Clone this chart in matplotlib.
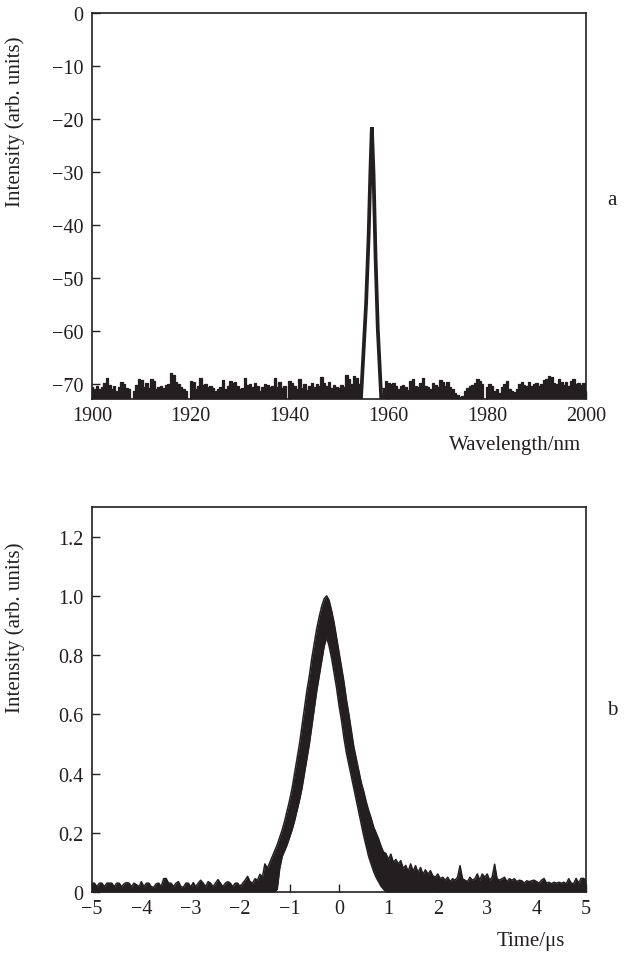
"""Two-panel figure: laser output spectrum (a) and pulse shape (b)."""

import numpy as np
import matplotlib
matplotlib.use('Agg')
import matplotlib.pyplot as plt
import matplotlib.ticker as mticker

plt.rcParams['font.family'] = ['Liberation Serif', 'DejaVu Serif']
INK = '#231f20'

# --------------------------------------------------------------------------- #
#  Data                                                  #
# --------------------------------------------------------------------------- #

# (a) spectrum, one reading every 0.5 nm from 1900 to 2000 nm
wl_start, wl_stop, wl_step = 1900.0, 2000.0, 0.5
nan = np.nan
spec_db = [
    -70.6, -70.9, -70.4, -71.0, -70.5, -69.8, -68.8, -70.2, -70.9, -70.4,   # 1900
    -71.2, -70.6, -69.5, -70.0, -70.8, -71.0, -73.5, -71.3, -70.1, -69.1,   # 1905
    -69.3, -70.5, -69.8, -70.7, -69.1, -69.4, -71.0, -70.5, -70.3, -70.8,   # 1910
    -70.2, -69.9, -67.9, -68.3, -69.5, -70.0, -70.6, -70.9, -71.2, -73.5,   # 1915
    -69.4, -69.6, -71.0, -70.4, -68.8, -70.2, -70.0, -70.6, -70.3, -70.8,   # 1920
    -71.3, -70.9, -70.6, -69.2, -71.0, -70.3, -69.4, -69.8, -69.5, -70.3,   # 1925
    -71.0, -70.7, -68.9, -70.2, -70.0, -70.6, -69.8, -70.4, -71.2, -70.5,   # 1930
    -70.0, -70.2, -70.6, -70.3, -68.9, -70.5, -69.5, -70.8, -70.3, -73.5,   # 1935
    -69.4, -69.7, -70.3, -71.0, -69.1, -70.8, -70.0, -71.1, -70.4, -69.8,   # 1940
    -70.5, -70.0, -70.4, -68.6, -69.8, -70.3, -69.5, -70.7, -70.2, -70.6,   # 1945
    -70.8, -70.2, -70.5, -68.2, -69.0, -70.0, -68.4, -68.8, -70.0, -70.5,   # 1950
    nan, nan, nan, nan, nan, nan, nan, nan, -70.8, -69.4,                    # 1955
    -69.8, -70.0, -69.7, -70.4, -70.9, -70.3, -70.2, -70.6, -71.1, -69.4,   # 1960
    -69.1, -70.3, -70.5, -69.8, -68.9, -70.3, -70.6, -71.0, -69.8, -70.2,   # 1965
    -70.6, -69.2, -69.6, -70.4, -69.6, -70.5, -70.9, -71.6, -72.1, -72.5,   # 1970
    -72.2, -71.2, -70.8, -70.4, -70.2, -69.8, -69.1, -69.4, -69.9, -73.5,   # 1975
    -70.6, -70.0, -70.3, -71.2, -71.0, -71.6, -70.5, -69.9, -69.4, -71.0,   # 1980
    -71.3, -71.5, -70.9, -70.0, -69.6, -70.2, -70.4, -69.5, -70.3, -70.0,   # 1985
    -69.8, -70.4, -70.0, -69.2, -69.0, -68.4, -68.7, -69.7, -70.0, -69.1,   # 1990
    -69.5, -70.2, -69.6, -70.4, -69.4, -69.1, -70.0, -69.7, -70.1, -69.8,   # 1995
    -70.3,                                                                  # 2000
]

# the lasing line itself
peak_wl = [1954.4, 1954.9, 1955.5, 1956.0, 1956.35, 1956.65,
           1957.0, 1957.4, 1957.85, 1958.3, 1958.6]
peak_db = [-73.5, -65.0, -54.5, -42.0, -30.0, -21.5,
           -30.5, -46.0, -59.5, -68.0, -73.5]

# (b) pulse, upper and lower edge of the recorded trace every 0.05 us
t_start, t_stop, t_step = -5.0, 5.0, 0.05
pulse_hi = [
    0.030, 0.030, 0.018, 0.030, 0.030, 0.018, 0.030, 0.030, 0.030, 0.018,   # -5.0
    0.030, 0.030, 0.018, 0.028, 0.032, 0.030, 0.018, 0.030, 0.025, 0.018,   # -4.5
    0.035, 0.018, 0.030, 0.030, 0.018, 0.016, 0.028, 0.030, 0.018, 0.045,   # -4.0
    0.046, 0.030, 0.030, 0.018, 0.030, 0.035, 0.018, 0.016, 0.030, 0.030,   # -3.5
    0.016, 0.032, 0.018, 0.030, 0.040, 0.030, 0.018, 0.035, 0.030, 0.018,   # -3.0
    0.030, 0.042, 0.030, 0.018, 0.030, 0.035, 0.030, 0.018, 0.030, 0.030,   # -2.5
    0.016, 0.030, 0.040, 0.053, 0.035, 0.030, 0.045, 0.040, 0.060, 0.050,   # -2.0
    0.095, 0.080, 0.100, 0.120, 0.140, 0.160, 0.185, 0.210, 0.240, 0.275,   # -1.5
    0.310, 0.350, 0.400, 0.450, 0.500, 0.560, 0.620, 0.680, 0.730, 0.790,   # -1.0
    0.840, 0.890, 0.930, 0.965, 0.990, 1.000, 0.985, 0.950, 0.910, 0.860,   # -0.5
    0.810, 0.760, 0.710, 0.650, 0.600, 0.545, 0.490, 0.450, 0.410, 0.370,   #  0.0
    0.340, 0.305, 0.275, 0.250, 0.220, 0.200, 0.180, 0.155, 0.135, 0.130,   #  0.5
    0.110, 0.128, 0.100, 0.110, 0.095, 0.106, 0.080, 0.090, 0.070, 0.095,   #  1.0
    0.070, 0.089, 0.065, 0.083, 0.060, 0.075, 0.060, 0.072, 0.055, 0.050,   #  1.5
    0.061, 0.045, 0.050, 0.040, 0.050, 0.035, 0.045, 0.040, 0.050, 0.089,   #  2.0
    0.045, 0.040, 0.035, 0.050, 0.040, 0.045, 0.061, 0.040, 0.061, 0.050,   #  2.5
    0.061, 0.040, 0.050, 0.094, 0.045, 0.040, 0.045, 0.050, 0.035, 0.045,   #  3.0
    0.040, 0.045, 0.035, 0.040, 0.038, 0.030, 0.038, 0.035, 0.038, 0.040,   #  3.5
    0.035, 0.030, 0.040, 0.046, 0.030, 0.033, 0.028, 0.033, 0.030, 0.033,   #  4.0
    0.030, 0.033, 0.028, 0.045, 0.030, 0.028, 0.046, 0.030, 0.046, 0.046,   #  4.5
    0.040,                                                                  #  5.0
]
pulse_lo = [0.0] * 75 + [
    0.010, 0.080, 0.120, 0.140, 0.160,                                      # -1.25
    0.185, 0.210, 0.240, 0.275, 0.310, 0.350, 0.400, 0.450, 0.500, 0.560,   # -1.0
    0.620, 0.680, 0.730, 0.780, 0.830, 0.860, 0.830, 0.790, 0.740, 0.690,   # -0.5
    0.630, 0.580, 0.520, 0.470, 0.430, 0.390, 0.350, 0.310, 0.270, 0.230,   #  0.0
    0.190, 0.155, 0.120, 0.095, 0.070, 0.050, 0.035, 0.020, 0.010,          #  0.5
] + [0.0] * 82


# --------------------------------------------------------------------------- #
#  Figure                                                                     #
# --------------------------------------------------------------------------- #

def _style(ax):
    for sp in ax.spines.values():
        sp.set_linewidth(1.2)
        sp.set_color(INK)
    ax.tick_params(direction='in', length=6, width=1.0, color=INK,
                   labelsize=14.5, labelcolor=INK, top=False, right=False)
    ax.tick_params(axis='y', pad=6)
    ax.tick_params(axis='x', pad=5)


fig = plt.figure(figsize=(6.25, 9.54), dpi=100)
ax1 = fig.add_axes([0.1472, 0.5807, 0.7904, 0.4046])
ax2 = fig.add_axes([0.1472, 0.0639, 0.7904, 0.4036])

# --- Panel a: spectrum ---
wl = np.arange(wl_start, wl_stop + wl_step / 2, wl_step)
spec = np.array(spec_db)
ax1.fill_between(wl, -80, spec, step='mid', color=INK, lw=0)
ax1.plot(wl, spec, drawstyle='steps-mid', color=INK, lw=0.9)
ax1.plot(peak_wl, peak_db, color=INK, lw=2.7, solid_joinstyle='miter')
ax1.set_xlim(1900, 2000)
ax1.set_ylim(-72.8, 0)
ax1.set_xticks(np.arange(1900, 2001, 20))
ax1.set_yticks(np.arange(-70, 1, 10))
_style(ax1)
ax1.set_xlabel('Wavelength/nm', fontsize=15, color=INK)
ax1.xaxis.label.set_va('center')
ax1.xaxis.set_label_coords(0.856, -0.119)
ax1.set_ylabel('Intensity (arb. units)', fontsize=15, color=INK)
ax1.yaxis.set_label_coords(-0.136, 0.72)
ax1.text(1.053, 0.518, 'a', transform=ax1.transAxes, fontsize=15,
         color=INK, ha='center', va='center')

# --- Panel b: pulse ---
t = np.arange(t_start, t_stop + t_step / 2, t_step)
ax2.fill_between(t, pulse_lo, pulse_hi, color=INK, lw=0)
ax2.plot(t, pulse_hi, color=INK, lw=1.1)
ax2.plot(t, pulse_lo, color=INK, lw=1.1)
ax2.set_xlim(-5, 5)
ax2.set_ylim(0, 1.3)
ax2.set_xticks(np.arange(-5, 6, 1))
ax2.set_yticks([0, 0.2, 0.4, 0.6, 0.8, 1.0, 1.2])
ax2.yaxis.set_major_formatter(
    mticker.FuncFormatter(lambda v, _: '0' if v == 0 else f'{v:.1f}'))
_style(ax2)
ax2.set_xlabel('Time/μs', fontsize=15, color=INK)
ax2.xaxis.label.set_va('center')
ax2.xaxis.set_label_coords(0.889, -0.127)
ax2.set_ylabel('Intensity (arb. units)', fontsize=15, color=INK)
ax2.yaxis.set_label_coords(-0.136, 0.69)
ax2.text(1.053, 0.475, 'b', transform=ax2.transAxes, fontsize=15,
         color=INK, ha='center', va='center')

fig.savefig('out.png', dpi=100)
plt.close(fig)
